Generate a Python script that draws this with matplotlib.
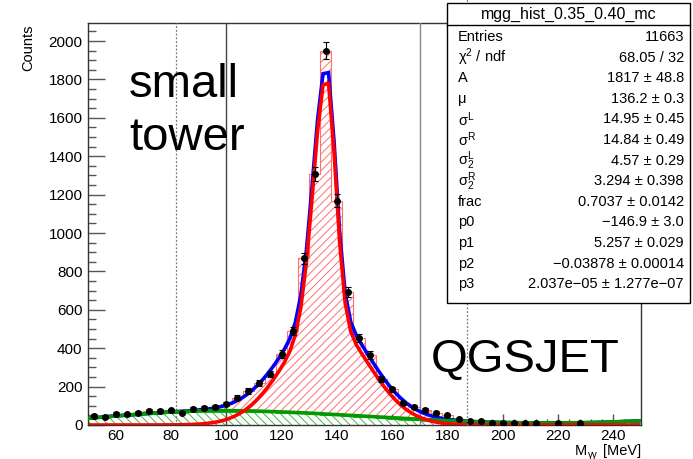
import matplotlib
matplotlib.use("Agg")
import matplotlib.pyplot as plt
import numpy as np
from matplotlib.patches import Rectangle
from matplotlib.lines import Line2D
from matplotlib.ticker import MultipleLocator

plt.rcParams["font.family"] = ["Liberation Sans", "DejaVu Sans"]
plt.rcParams["mathtext.fontset"] = "custom"
plt.rcParams["mathtext.rm"] = "Liberation Sans"
plt.rcParams["mathtext.it"] = "Liberation Sans"
plt.rcParams["mathtext.default"] = "regular"
plt.rcParams["hatch.linewidth"] = 0.7

# 4 MeV bins from 50 to 250 MeV
edges = np.arange(50, 251, 4)
centers = edges[:-1] + 2

# data / stacked total per bin
counts = [48, 43, 59, 57, 64, 73, 75, 76, 64, 85,
          90, 95, 109, 142, 177, 220, 265, 370, 490, 868,
          1306, 1950, 1168, 694, 451, 365, 238, 186, 113, 95,
          78, 64, 52, 30, 22, 21, 9, 12, 12, 9,
          9, 0, 9, 0, 9, 0, 0, 0, 0, 0]

# background component per bin
bkg_hist = [38, 40, 46, 50, 55, 58, 62, 64, 60, 66,
            68, 68, 70, 70, 68, 68, 66, 64, 62, 60,
            56, 54, 50, 48, 44, 40, 36, 32, 28, 24,
            20, 17, 14, 11, 9, 8, 6, 6, 6, 5,
            5, 4, 5, 4, 5, 4, 5, 5, 6, 8]

# background fit curve
bkg_x = [50, 60, 70, 80, 90, 100, 110, 120, 130, 140, 150,
         160, 170, 180, 190, 200, 210, 220, 230, 240, 250]
bkg_y = [35, 47, 58, 68, 74, 75, 73, 68, 62, 54, 46,
         38, 30, 23, 17, 13, 11, 11, 12, 16, 22]

# signal fit parameters
A, mu = 1817, 136.2
sigL, sigR = 14.95, 14.84
sig2L, sig2R = 4.57, 3.294
frac = 0.7037

stat_names = ["Entries", r"$χ^{2}$ / ndf", "A", "μ", r"$σ^{L}$", r"$σ^{R}$",
              r"$σ_{2}^{L}$", r"$σ_{2}^{R}$", "frac", "p0", "p1", "p2", "p3"]
stat_values = ["11663", "68.05 / 32", "1817 ± 48.8", "136.2 ± 0.3",
               "14.95 ± 0.45", "14.84 ± 0.49", "4.57 ± 0.29", "3.294 ± 0.398",
               "0.7037 ± 0.0142", "\u2212146.9 ± 3.0", "5.257 ± 0.029",
               "\u22120.03878 ± 0.00014", "2.037e\u221205 ± 1.277e\u221207"]


def signal(x):
    s2 = np.where(x < mu, sig2L, sig2R)
    s1 = np.where(x < mu, sigL, sigR)
    return A * (frac * np.exp(-0.5 * ((x - mu) / s2) ** 2)
                + (1 - frac) * np.exp(-0.5 * ((x - mu) / s1) ** 2))


W, H = 693, 459
fig = plt.figure(figsize=(W / 100, H / 100), dpi=100)
ax = fig.add_axes([88 / W, 1 - 425 / H, (641 - 88) / W, (425 - 23) / H])
ax.set_xlim(50, 250)
ax.set_ylim(0, 2094)

red = "#ff0000"
green = "#009a00"
blue = "#0000ff"

# stacked histograms
ax.stairs(counts, edges, fill=True, facecolor="none", edgecolor="#ff6f6f",
          hatch="////", linewidth=0.8, zorder=1)
ax.stairs(bkg_hist, edges, fill=True, facecolor="white", edgecolor="#44b844",
          hatch="\\\\\\\\", linewidth=0.8, zorder=2)

# fit curves, evaluated on 100 points
xf = np.arange(51, 250, 2).astype(float)
sig = signal(xf)
bk = np.interp(xf, bkg_x, bkg_y)
ax.plot(xf, sig + bk, color=blue, lw=2.6, zorder=4, solid_joinstyle="miter")
ax.plot(bkg_x, bkg_y, color=green, lw=2.6, zorder=5)
ax.plot(xf, sig, color=red, lw=2.6, zorder=6, solid_joinstyle="miter")

# data points
cnt = np.array(counts, dtype=float)
nz = cnt > 0
ax.errorbar(centers[nz], cnt[nz], yerr=np.sqrt(cnt[nz]), fmt="o", color="black",
            ms=4.0, elinewidth=0.8, capsize=2, capthick=0.8, zorder=7)

# window lines
ax.axvline(82, color="#777777", lw=0.9, ls=(0, (1.5, 1.5)), zorder=3)
ax.axvline(100, color="#444444", lw=1.0, zorder=3)
ax.axvline(170, color="#888888", lw=1.0, zorder=3)
ax.add_line(Line2D([187, 187], [0, 2094 * 1.06], color="#777777", lw=0.9,
                   ls=(0, (1.5, 1.5)), clip_on=False, zorder=20))

# axis style
ax.xaxis.set_major_locator(MultipleLocator(20))
ax.xaxis.set_minor_locator(MultipleLocator(4))
ax.yaxis.set_major_locator(MultipleLocator(200))
ax.yaxis.set_minor_locator(MultipleLocator(50))
ax.tick_params(axis="x", which="major", direction="in", length=8, width=1,
               color="#555555", labelsize=11, pad=3)
ax.tick_params(axis="x", which="minor", direction="in", length=4, width=1,
               color="#555555")
ax.tick_params(axis="y", which="major", direction="in", length=12, width=1,
               color="#555555", labelsize=11, pad=4)
ax.tick_params(axis="y", which="minor", direction="in", length=6, width=1,
               color="#555555")
ax.set_xticks([60, 80, 100, 120, 140, 160, 180, 200, 220, 240])
for s in ax.spines.values():
    s.set_linewidth(1.0)
    s.set_color("#333333")

fig.text(28 / W, 1 - 48 / H, "Counts", rotation=90, ha="center", va="center",
         fontsize=10.5)
# x axis title: M, subscript γγ, unit
fig.text(641 / W, 1 - 455 / H, "[MeV]", ha="right", va="baseline", fontsize=10.5)
fig.text(598 / W, 1 - 458 / H, "γγ", ha="right", va="baseline", fontsize=7)
fig.text(587 / W, 1 - 455 / H, "M", ha="right", va="baseline", fontsize=10.5)

ax.text(129 / W, 1 - 97 / H, "small", transform=fig.transFigure, fontsize=34,
        va="baseline", zorder=10)
ax.text(129 / W, 1 - 150 / H, "tower", transform=fig.transFigure, fontsize=34,
        va="baseline", zorder=10)
ax.text(431 / W, 1 - 372 / H, "QGSJET", transform=fig.transFigure, fontsize=34,
        va="baseline", zorder=10)

# stats box
bx0, bx1, by0, by1 = 447, 690, 3, 303
fig.patches.append(Rectangle((bx0 / W, 1 - by1 / H), (bx1 - bx0) / W,
                             (by1 - by0) / H, transform=fig.transFigure,
                             facecolor="white", edgecolor="black", lw=1.0,
                             zorder=15))
fig.add_artist(Line2D([bx0 / W, bx1 / W], [1 - 25 / H, 1 - 25 / H],
                      color="black", lw=1.0, zorder=16))
fig.text((bx0 + bx1) / 2 / W, 1 - 14 / H, "mgg_hist_0.35_0.40_mc", ha="center",
         va="center", fontsize=11.5, zorder=17)
for i, (nm, val) in enumerate(zip(stat_names, stat_values)):
    yy = 1 - (37 + i * 20.6) / H
    fig.text(458 / W, yy, nm, ha="left", va="center", fontsize=10.5, zorder=17)
    fig.text(684 / W, yy, val, ha="right", va="center", fontsize=10.5, zorder=17)

fig.savefig("out.png", dpi=100)
